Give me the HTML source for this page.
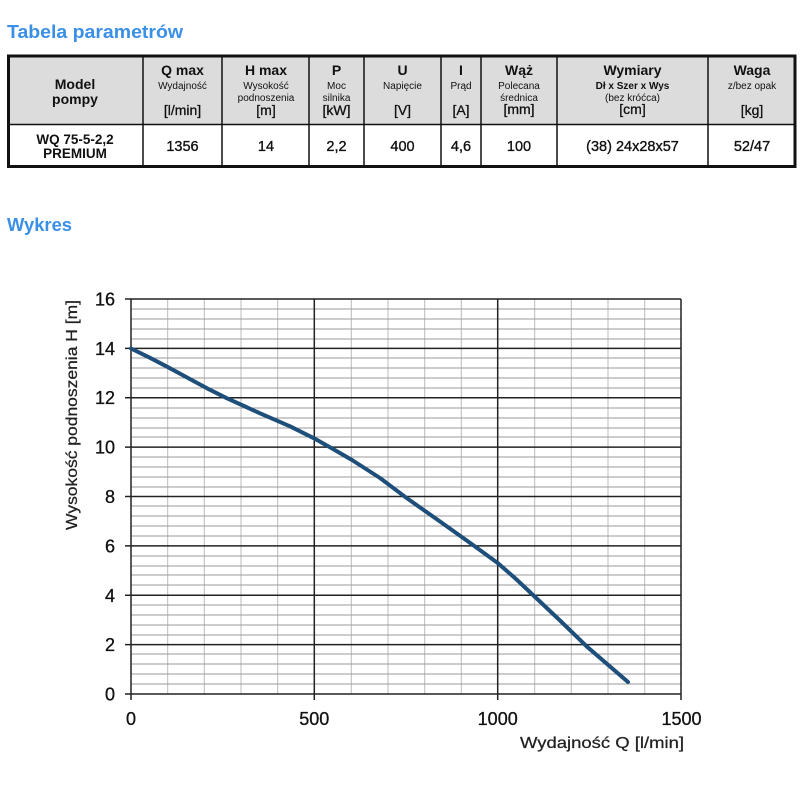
<!DOCTYPE html>
<html><head><meta charset="utf-8"><style>
html,body{margin:0;padding:0;background:#fff;}
svg{display:block;}
text{font-family:"Liberation Sans",sans-serif;}
</style></head><body>
<svg width="802" height="800" viewBox="0 0 802 800" xmlns="http://www.w3.org/2000/svg">
<rect width="802" height="800" fill="#fff"/>
<text x="7" y="38" font-size="18" font-weight="bold" fill="#3a8fe6" textLength="176" lengthAdjust="spacingAndGlyphs">Tabela parametrów</text>
<text x="7" y="231" font-size="18" font-weight="bold" fill="#3a8fe6" textLength="65" lengthAdjust="spacingAndGlyphs">Wykres</text>

<!-- table -->
<rect x="7" y="55" width="789" height="70" fill="#dcdcdc"/>
<g stroke="#111" stroke-width="1.5">
<line x1="7" y1="124.5" x2="796" y2="124.5"/>
<line x1="143" y1="55" x2="143" y2="167"/>
<line x1="222" y1="55" x2="222" y2="167"/>
<line x1="309" y1="55" x2="309" y2="167"/>
<line x1="364" y1="55" x2="364" y2="167"/>
<line x1="441" y1="55" x2="441" y2="167"/>
<line x1="481" y1="55" x2="481" y2="167"/>
<line x1="557" y1="55" x2="557" y2="167"/>
<line x1="708" y1="55" x2="708" y2="167"/>
</g>
<rect x="8.5" y="56" width="786.5" height="110.5" fill="none" stroke="#111" stroke-width="3"/>

<g fill="#111" text-anchor="middle">
<text x="75" y="89" font-size="14" font-weight="bold">Model</text>
<text x="75" y="104" font-size="14" font-weight="bold">pompy</text>
<text x="75" y="144" font-size="13.5" font-weight="bold">WQ 75-5-2,2</text>
<text x="75" y="158" font-size="13.5" font-weight="bold">PREMIUM</text>

<text x="182.5" y="75" font-size="14" font-weight="bold">Q max</text>
<text x="182.5" y="89" font-size="10">Wydajność</text>
<text x="182.5" y="115" font-size="14" stroke="#111" stroke-width="0.3">[l/min]</text>
<text x="182.5" y="151" font-size="14.5" stroke="#111" stroke-width="0.35">1356</text>

<text x="266" y="75" font-size="14" font-weight="bold">H max</text>
<text x="266" y="89" font-size="10">Wysokość</text>
<text x="266" y="101" font-size="10">podnoszenia</text>
<text x="266" y="115" font-size="14" stroke="#111" stroke-width="0.3">[m]</text>
<text x="266" y="151" font-size="14.5" stroke="#111" stroke-width="0.35">14</text>

<text x="336.5" y="75" font-size="14" font-weight="bold">P</text>
<text x="336.5" y="89" font-size="10">Moc</text>
<text x="336.5" y="101" font-size="10">silnika</text>
<text x="336.5" y="115" font-size="14" stroke="#111" stroke-width="0.3">[kW]</text>
<text x="336.5" y="151" font-size="14.5" stroke="#111" stroke-width="0.35">2,2</text>

<text x="402.5" y="75" font-size="14" font-weight="bold">U</text>
<text x="402.5" y="89" font-size="10">Napięcie</text>
<text x="402.5" y="115" font-size="14" stroke="#111" stroke-width="0.3">[V]</text>
<text x="402.5" y="151" font-size="14.5" stroke="#111" stroke-width="0.35">400</text>

<text x="461" y="75" font-size="14" font-weight="bold">I</text>
<text x="461" y="89" font-size="10">Prąd</text>
<text x="461" y="115" font-size="14" stroke="#111" stroke-width="0.3">[A]</text>
<text x="461" y="151" font-size="14.5" stroke="#111" stroke-width="0.35">4,6</text>

<text x="519" y="75" font-size="14" font-weight="bold">Wąż</text>
<text x="519" y="89" font-size="10">Polecana</text>
<text x="519" y="101" font-size="10">średnica</text>
<text x="519" y="114" font-size="14" stroke="#111" stroke-width="0.3">[mm]</text>
<text x="519" y="151" font-size="14.5" stroke="#111" stroke-width="0.35">100</text>

<text x="632.5" y="75" font-size="14" font-weight="bold">Wymiary</text>
<text x="632.5" y="89" font-size="10" font-weight="bold">Dł x Szer x Wys</text>
<text x="632.5" y="101" font-size="10">(bez króćca)</text>
<text x="632.5" y="114" font-size="14" stroke="#111" stroke-width="0.3">[cm]</text>
<text x="632.5" y="151" font-size="14.5" stroke="#111" stroke-width="0.35">(38) 24x28x57</text>

<text x="752" y="75" font-size="14" font-weight="bold">Waga</text>
<text x="752" y="89" font-size="10">z/bez opak</text>
<text x="752" y="115" font-size="14" stroke="#111" stroke-width="0.3">[kg]</text>
<text x="752" y="151" font-size="14.5" stroke="#111" stroke-width="0.35">52/47</text>
</g>

<!-- chart grid -->
<g stroke="#bbb" stroke-width="1">
<line x1="167.7" y1="299" x2="167.7" y2="694"/>
<line x1="204.3" y1="299" x2="204.3" y2="694"/>
<line x1="241" y1="299" x2="241" y2="694"/>
<line x1="277.7" y1="299" x2="277.7" y2="694"/>
<line x1="351.3" y1="299" x2="351.3" y2="694"/>
<line x1="388" y1="299" x2="388" y2="694"/>
<line x1="424.7" y1="299" x2="424.7" y2="694"/>
<line x1="461.3" y1="299" x2="461.3" y2="694"/>
<line x1="534.7" y1="299" x2="534.7" y2="694"/>
<line x1="571.3" y1="299" x2="571.3" y2="694"/>
<line x1="608" y1="299" x2="608" y2="694"/>
<line x1="644.7" y1="299" x2="644.7" y2="694"/>
</g>
<g stroke="#999" stroke-width="1">
<line x1="131" y1="309" x2="681" y2="309"/><line x1="131" y1="319" x2="681" y2="319"/><line x1="131" y1="329" x2="681" y2="329"/><line x1="131" y1="339" x2="681" y2="339"/>
<line x1="131" y1="358" x2="681" y2="358"/><line x1="131" y1="368" x2="681" y2="368"/><line x1="131" y1="378" x2="681" y2="378"/><line x1="131" y1="388" x2="681" y2="388"/>
<line x1="131" y1="408" x2="681" y2="408"/><line x1="131" y1="418" x2="681" y2="418"/><line x1="131" y1="428" x2="681" y2="428"/><line x1="131" y1="437" x2="681" y2="437"/>
<line x1="131" y1="457" x2="681" y2="457"/><line x1="131" y1="467" x2="681" y2="467"/><line x1="131" y1="477" x2="681" y2="477"/><line x1="131" y1="487" x2="681" y2="487"/>
<line x1="131" y1="506" x2="681" y2="506"/><line x1="131" y1="516" x2="681" y2="516"/><line x1="131" y1="526" x2="681" y2="526"/><line x1="131" y1="536" x2="681" y2="536"/>
<line x1="131" y1="556" x2="681" y2="556"/><line x1="131" y1="566" x2="681" y2="566"/><line x1="131" y1="575" x2="681" y2="575"/><line x1="131" y1="585" x2="681" y2="585"/>
<line x1="131" y1="605" x2="681" y2="605"/><line x1="131" y1="615" x2="681" y2="615"/><line x1="131" y1="625" x2="681" y2="625"/><line x1="131" y1="635" x2="681" y2="635"/>
<line x1="131" y1="654" x2="681" y2="654"/><line x1="131" y1="664" x2="681" y2="664"/><line x1="131" y1="674" x2="681" y2="674"/><line x1="131" y1="684" x2="681" y2="684"/>
</g>
<g stroke="#222" stroke-width="1.5">
<line x1="125" y1="299" x2="681" y2="299"/>
<line x1="125" y1="348.4" x2="681" y2="348.4"/>
<line x1="125" y1="397.7" x2="681" y2="397.7"/>
<line x1="125" y1="447.1" x2="681" y2="447.1"/>
<line x1="125" y1="496.5" x2="681" y2="496.5"/>
<line x1="125" y1="545.9" x2="681" y2="545.9"/>
<line x1="125" y1="595.3" x2="681" y2="595.3"/>
<line x1="125" y1="644.6" x2="681" y2="644.6"/>
<line x1="125" y1="694" x2="681" y2="694"/>
<line x1="131" y1="299" x2="131" y2="700"/>
<line x1="314.3" y1="299" x2="314.3" y2="700"/>
<line x1="497.7" y1="299" x2="497.7" y2="700"/>
<line x1="681" y1="299" x2="681" y2="700"/>
</g>

<!-- curve -->
<path d="M131,348.5 L150,357.8 L168,367.2 L188,378 L207,388.3 L227,398.3 L244,406 L260,413.3 L290,426.3 L314,438.3 L333,449 L352,460 L380,478 L407,498.3 L440,521.5 L473,545 L498,563.3 L516,579 L533,595 L560,620.5 L587,646.7 L628,682" fill="none" stroke="#1d4f7a" stroke-width="4" stroke-linejoin="round" stroke-linecap="round"/>

<!-- tick labels -->
<g fill="#111" font-size="18" text-anchor="end" stroke="#111" stroke-width="0.3">
<text x="115" y="305.5">16</text>
<text x="115" y="354.9">14</text>
<text x="115" y="404.2">12</text>
<text x="115" y="453.6">10</text>
<text x="115" y="503">8</text>
<text x="115" y="552.4">6</text>
<text x="115" y="601.8">4</text>
<text x="115" y="651.1">2</text>
<text x="115" y="700.5">0</text>
</g>
<g fill="#111" font-size="18" text-anchor="middle" stroke="#111" stroke-width="0.3">
<text x="131" y="725">0</text>
<text x="314.3" y="725">500</text>
<text x="497.7" y="725">1000</text>
<text x="681.5" y="725">1500</text>
</g>
<text x="520" y="748" font-size="16" fill="#222" stroke="#222" stroke-width="0.25" textLength="164" lengthAdjust="spacingAndGlyphs">Wydajność Q [l/min]</text>
<text transform="translate(77,415) rotate(-90)" text-anchor="middle" font-size="16" fill="#222" stroke="#222" stroke-width="0.25" textLength="230" lengthAdjust="spacingAndGlyphs">Wysokość podnoszenia H [m]</text>
</svg>
</body></html>
